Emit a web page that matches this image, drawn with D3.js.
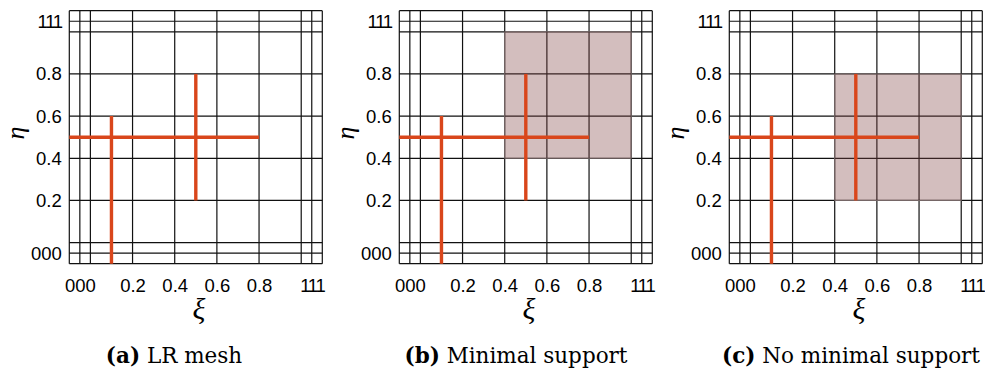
<!DOCTYPE html>
<html>
<head>
<meta charset="utf-8">
<script src="https://cdn.jsdelivr.net/npm/d3@7"></script>
<style>
  body { margin: 0; background: #fff; }
</style>
</head>
<body>
<div id="chart"></div>
<script>
var W = 985, H = 373;

// knot lines (triple knots at 0 and 1 are drawn spread out)
var meshLines = [-0.1, -0.05, 0, 0.2, 0.4, 0.6, 0.8, 1, 1.05, 1.1];
var tickValues = [-0.05, 0.2, 0.4, 0.6, 0.8, 1.05];
var tickLabels = ["000", "0.2", "0.4", "0.6", "0.8", "111"];

// inserted refinement lines (same in every panel)
var refineX1 = [-0.1, 0.1, 0.5];
var refineY1 = [0.5, -0.1, 0.2];
var refineX2 = [0.8, 0.1, 0.5];
var refineY2 = [0.5, 0.6, 0.8];

// highlighted B-spline support per panel: [xmin, xmax, ymin, ymax] or null
var supports = [null, [0.4, 1.0, 0.4, 1.0], [0.4, 1.0, 0.2, 0.8]];
var captionTags = ["(a)", "(b)", "(c)"];
var captionTexts = ["LR mesh", "Minimal support", "No minimal support"];
var captionX = [174, 516, 851];

var svg = d3.select("#chart")
  .append("svg")
  .attr("width", W)
  .attr("height", H);

var x = d3.scaleLinear().domain([-0.1, 1.1]).range([69.3, 322.3]);
var y = d3.scaleLinear().domain([-0.1, 1.1]).range([263.7, 10.7]);

function styleTicks(sel) {
  sel.select(".domain").remove();
  sel.selectAll("text")
    .style("font-family", "'Liberation Sans', Arial, sans-serif")
    .style("font-size", "18.5px")
    .style("letter-spacing", function (d, k) { return tickLabels[k] == "111" ? "-1.3px" : null; })
    .attr("fill", "#000");
}

for (var i = 0; i < 3; i++) {
  var g = svg.append("g")
    .attr("transform", "translate(" + (i * 330) + ",0)");

  // grid
  g.append("g").selectAll("line.v")
    .data(meshLines)
    .enter()
    .append("line")
    .attr("x1", function (d) { return x(d); })
    .attr("x2", function (d) { return x(d); })
    .attr("y1", y(-0.1))
    .attr("y2", y(1.1))
    .attr("stroke", "#111")
    .attr("stroke-width", 1.2);

  g.append("g").selectAll("line.h")
    .data(meshLines)
    .enter()
    .append("line")
    .attr("y1", function (d) { return y(d); })
    .attr("y2", function (d) { return y(d); })
    .attr("x1", x(-0.1))
    .attr("x2", x(1.1))
    .attr("stroke", "#111")
    .attr("stroke-width", 1.2);

  // support box
  var s = supports[i];
  if (s) {
    g.append("rect")
      .attr("x", x(s[0]))
      .attr("y", y(s[3]))
      .attr("width", x(s[1]) - x(s[0]))
      .attr("height", y(s[2]) - y(s[3]))
      .attr("fill", "rgb(130,68,68)")
      .attr("fill-opacity", 0.35)
      .attr("stroke", "#8a7a7a")
      .attr("stroke-width", 0.8);
  }

  // refinement lines
  g.append("g").selectAll("line")
    .data(d3.range(refineX1.length))
    .enter()
    .append("line")
    .attr("x1", function (k) { return x(refineX1[k]); })
    .attr("y1", function (k) { return y(refineY1[k]); })
    .attr("x2", function (k) { return x(refineX2[k]); })
    .attr("y2", function (k) { return y(refineY2[k]); })
    .attr("stroke", "#d9461b")
    .attr("stroke-width", 3.4);

  // axes
  g.append("g")
    .attr("transform", "translate(0," + 263.7 + ")")
    .call(d3.axisBottom(x)
      .tickValues(tickValues)
      .tickSize(0)
      .tickPadding(15)
      .tickFormat(function (d, k) { return tickLabels[k]; }))
    .call(styleTicks);

  g.append("g")
    .attr("transform", "translate(69.3,0)")
    .call(d3.axisLeft(y)
      .tickValues(tickValues)
      .tickSize(0)
      .tickPadding(7.5)
      .tickFormat(function (d, k) { return tickLabels[k]; }))
    .call(styleTicks);

  // axis labels
  g.append("text")
    .attr("x", 199)
    .attr("y", 319)
    .attr("text-anchor", "middle")
    .style("font-family", "'Liberation Serif', 'Times New Roman', serif")
    .style("font-style", "italic")
    .style("font-size", "30px")
    .text("ξ");

  g.append("text")
    .attr("transform", "translate(23.5,133) rotate(-90)")
    .attr("text-anchor", "middle")
    .style("font-family", "'Liberation Serif', 'Times New Roman', serif")
    .style("font-style", "italic")
    .style("font-size", "26px")
    .text("η");

  // caption
  var cap = svg.append("text")
    .attr("x", captionX[i])
    .attr("y", 363)
    .attr("text-anchor", "middle")
    .style("font-family", "'DejaVu Serif', serif")
    .style("font-size", "21.5px");
  cap.append("tspan").style("font-weight", "bold").text(captionTags[i]);
  cap.append("tspan").text(" " + captionTexts[i]);
}
</script>
</body>
</html>
